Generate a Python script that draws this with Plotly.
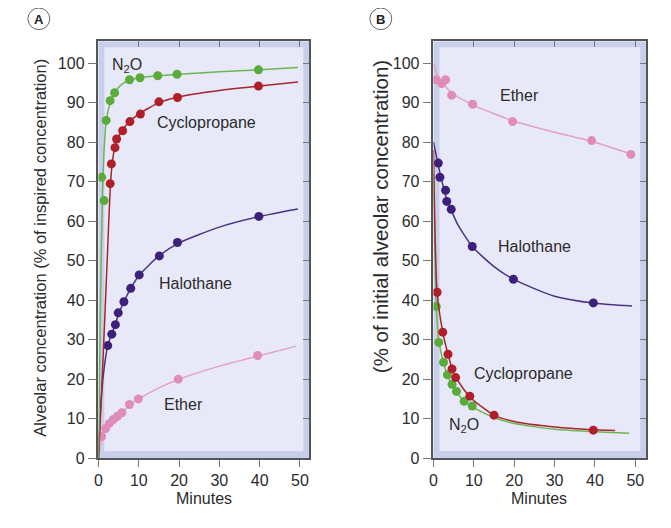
import plotly.graph_objects as go

# ---------------- Panel A: uptake (% of inspired concentration) ----------------
a_n2o_t = [0.8, 1.4, 1.9, 2.9, 4.0, 7.7, 10.3, 14.7, 19.5, 39.7]
a_n2o_v = [71.1, 65.2, 85.5, 90.5, 92.5, 95.8, 96.3, 96.8, 97.2, 98.3]
a_n2o_curve_t = [0, 0.5, 1.0, 1.5, 2.0, 3.0, 4.0, 6.0, 8.0, 10, 15, 20, 30, 40, 49.5]
a_n2o_curve_v = [0, 40, 67, 80, 86, 90.3, 92.6, 94.8, 95.8, 96.3, 96.8, 97.2, 97.8, 98.3, 98.9]

a_cyc_t = [2.9, 3.2, 4.1, 4.5, 6.0, 7.8, 10.4, 15.0, 19.6, 39.7]
a_cyc_v = [69.5, 74.5, 78.6, 80.8, 82.9, 85.2, 87.1, 90.2, 91.3, 94.2]
a_cyc_curve_t = [0, 1.0, 2.2, 2.9, 3.5, 4.5, 6.0, 8.0, 10, 15, 20, 30, 40, 49.5]
a_cyc_curve_v = [0, 22, 51, 68, 75.5, 80.3, 83.2, 85.5, 87.1, 90.0, 91.5, 93.1, 94.2, 95.2]

a_hal_t = [2.3, 3.3, 4.2, 4.9, 6.3, 8.0, 10.1, 15.1, 19.6, 39.8]
a_hal_v = [28.5, 31.4, 33.8, 36.8, 39.6, 43.0, 46.4, 51.2, 54.6, 61.2]
a_hal_curve_t = [0, 0.5, 1.2, 2.3, 3.3, 4.2, 5.0, 6.3, 8.0, 10, 15, 20, 30, 40, 49.5]
a_hal_curve_v = [0, 12, 21, 28.5, 31.6, 34.0, 36.5, 39.6, 43.0, 46.2, 51.2, 54.5, 58.5, 61.2, 63.1]

a_eth_t = [0.8, 1.8, 2.7, 3.7, 4.7, 5.8, 7.7, 9.9, 19.8, 39.5]
a_eth_v = [5.5, 7.5, 8.8, 9.8, 10.6, 11.5, 13.6, 15.0, 20.0, 26.0]
a_eth_curve_t = [0, 0.8, 1.8, 2.7, 3.7, 4.7, 5.8, 7.7, 10, 15, 20, 30, 40, 49]
a_eth_curve_v = [0, 5.5, 7.5, 8.8, 9.8, 10.6, 11.5, 13.4, 15.0, 17.8, 20.0, 23.3, 26.0, 28.3]

# ---------------- Panel B: elimination (% of initial alveolar concentration) ----------------
b_eth_t = [0.7, 2.0, 3.0, 4.5, 9.7, 19.6, 39.2, 48.9]
b_eth_v = [95.8, 94.8, 95.8, 91.9, 89.6, 85.2, 80.4, 76.9]
b_eth_curve_t = [0, 1, 2, 4.5, 10, 20, 30, 40, 49]
b_eth_curve_v = [100, 96.8, 95.3, 92.5, 89.3, 85.3, 82.5, 80.0, 77.0]

b_hal_t = [1.2, 1.6, 3.0, 3.3, 4.4, 9.6, 19.8, 39.6]
b_hal_v = [74.7, 71.1, 67.8, 65.0, 63.0, 53.6, 45.3, 39.3]
b_hal_curve_t = [0, 1, 2, 3, 4.4, 6, 9.6, 15, 20, 30, 40, 49.2]
b_hal_curve_v = [80, 75, 70.5, 66.5, 62.8, 59.2, 53.6, 48.5, 45.2, 41.0, 39.2, 38.5]

b_cyc_t = [0.9, 2.3, 3.6, 4.6, 5.5, 9.0, 15.0, 39.6]
b_cyc_v = [42.0, 31.9, 26.3, 22.6, 20.4, 15.7, 10.9, 7.1]
b_cyc_curve_t = [0, 0.9, 2.3, 3.6, 4.6, 5.5, 9.0, 15, 20, 30, 40, 45]
b_cyc_curve_v = [78, 42, 31.9, 26.3, 22.8, 20.5, 15.5, 10.9, 9.3, 7.9, 7.2, 7.0]

b_n2o_t = [0.7, 1.3, 2.5, 3.45, 4.6, 5.7, 7.6, 9.6]
b_n2o_v = [38.4, 29.3, 24.3, 21.1, 18.7, 16.9, 14.4, 13.2]
b_n2o_curve_t = [0, 0.7, 1.3, 2.5, 3.5, 4.6, 5.7, 7.6, 9.6, 15, 20, 30, 40, 48.5]
b_n2o_curve_v = [72, 38.4, 30, 24, 21, 18.5, 16.8, 14.4, 13.0, 10.3, 8.8, 7.3, 6.7, 6.3]

x_ticks = [0, 10, 20, 30, 40, 50]
y_ticks = [0, 10, 20, 30, 40, 50, 60, 70, 80, 90, 100]

GREEN_M, GREEN_L = "#5aab3c", "#6cb550"
RED_M, RED_L = "#b01e2a", "#a8242e"
PUR_M, PUR_L = "#3d1f7c", "#4b3383"
PINK_M, PINK_L = "#e08cba", "#e3a0c6"

FONT = "Liberation Sans, Arial, sans-serif"
TXT = "#2b2b2b"

W, H = 671, 528
OFF = 8  # page body margin offset


def px(x):
    return (x - OFF) / W


def py(y):
    return 1 - (y - OFF) / H


fig = go.Figure()


def add_series(t, v, ct, cv, lc, mc, xa, ya):
    fig.add_trace(go.Scatter(x=ct, y=cv, mode="lines",
                             line=dict(color=lc, width=1.5, shape="spline", smoothing=0.6),
                             xaxis=xa, yaxis=ya, hoverinfo="skip", showlegend=False))
    fig.add_trace(go.Scatter(x=t, y=v, mode="markers", marker=dict(color=mc, size=9),
                             xaxis=xa, yaxis=ya, showlegend=False))


add_series(a_eth_t, a_eth_v, a_eth_curve_t, a_eth_curve_v, PINK_L, PINK_M, "x", "y")
add_series(a_hal_t, a_hal_v, a_hal_curve_t, a_hal_curve_v, PUR_L, PUR_M, "x", "y")
add_series(a_cyc_t, a_cyc_v, a_cyc_curve_t, a_cyc_curve_v, RED_L, RED_M, "x", "y")
add_series(a_n2o_t, a_n2o_v, a_n2o_curve_t, a_n2o_curve_v, GREEN_L, GREEN_M, "x", "y")

add_series(b_eth_t, b_eth_v, b_eth_curve_t, b_eth_curve_v, PINK_L, PINK_M, "x2", "y2")
add_series(b_hal_t, b_hal_v, b_hal_curve_t, b_hal_curve_v, PUR_L, PUR_M, "x2", "y2")
add_series(b_n2o_t, b_n2o_v, b_n2o_curve_t, b_n2o_curve_v, GREEN_L, GREEN_M, "x2", "y2")
add_series(b_cyc_t, b_cyc_v, b_cyc_curve_t, b_cyc_curve_v, RED_L, RED_M, "x2", "y2")

# invisible traces for the mirrored (inside-tick) axes
fig.add_trace(go.Scatter(x=[0], y=[0], xaxis="x3", yaxis="y3", mode="markers",
                         marker=dict(opacity=0), showlegend=False, hoverinfo="skip"))
fig.add_trace(go.Scatter(x=[0], y=[0], xaxis="x4", yaxis="y4", mode="markers",
                         marker=dict(opacity=0), showlegend=False, hoverinfo="skip"))

XR_A = [0, 52.3]
XR_B = [0, 52.7]
YR = [0, 105.5]
DOM_XA = [px(95), px(307)]
DOM_XB = [px(432), px(646)]
DOM_Y = [py(466), py(42)]

axis_common = dict(showgrid=False, zeroline=False, showline=True, linecolor="#555555", linewidth=1.5,
                   tickcolor="#777777", tickwidth=1, tickfont=dict(family=FONT, size=16, color=TXT))

fig.update_layout(
    width=W, height=H,
    margin=dict(l=0, r=0, t=0, b=0),
    paper_bgcolor="white",
    plot_bgcolor="#c8cfea",
    xaxis=dict(domain=DOM_XA, range=XR_A, anchor="y", tickvals=x_ticks, ticks="outside", ticklen=7, **axis_common),
    yaxis=dict(domain=DOM_Y, range=YR, anchor="x", tickvals=y_ticks, ticks="outside", ticklen=9, **axis_common),
    xaxis2=dict(domain=DOM_XB, range=XR_B, anchor="y2", tickvals=x_ticks, ticks="outside", ticklen=7, **axis_common),
    yaxis2=dict(domain=DOM_Y, range=YR, anchor="x2", tickvals=y_ticks, ticks="outside", ticklen=9, **axis_common),
    xaxis3=dict(overlaying="x", side="top", anchor="y3", range=XR_A, tickvals=x_ticks, ticks="inside", ticklen=6,
                showticklabels=False, **axis_common),
    yaxis3=dict(overlaying="y", side="right", anchor="x3", range=YR, tickvals=y_ticks, ticks="inside", ticklen=6,
                showticklabels=False, **axis_common),
    xaxis4=dict(overlaying="x2", side="top", anchor="y4", range=XR_B, tickvals=x_ticks, ticks="inside", ticklen=6,
                showticklabels=False, **axis_common),
    yaxis4=dict(overlaying="y2", side="right", anchor="x4", range=YR, tickvals=y_ticks, ticks="inside", ticklen=6,
                showticklabels=False, **axis_common),
)

# lighter inner panel background
for xr, yr in (("x domain", "y domain"), ("x2 domain", "y2 domain")):
    fig.add_shape(type="rect", xref=xr, yref=yr, x0=0.028, x1=0.972, y0=0.017, y1=0.986,
                  fillcolor="#e8e9f8", line=dict(width=0), layer="below")


def lab(text, x, y, xa, ya, size=16):
    fig.add_annotation(text=text, x=x, y=y, xref=xa, yref=ya, showarrow=False,
                       xanchor="center", yanchor="middle",
                       font=dict(family=FONT, size=size, color=TXT))


lab("N<sub>2</sub>O", 7.2, 99.5, "x", "y")
lab("Cyclopropane", 26.7, 85.0, "x", "y")
lab("Halothane", 24.1, 44.2, "x", "y")
lab("Ether", 21.0, 13.5, "x", "y")

lab("Ether", 21.3, 91.9, "x2", "y2")
lab("Halothane", 25.1, 53.6, "x2", "y2")
lab("Cyclopropane", 22.3, 21.4, "x2", "y2")
lab("N<sub>2</sub>O", 7.6, 8.2, "x2", "y2")


def ptext(text, x, y, size, angle=0, color=TXT):
    fig.add_annotation(text=text, x=px(x), y=py(y), xref="paper", yref="paper", showarrow=False,
                       xanchor="center", yanchor="middle", textangle=angle,
                       font=dict(family=FONT, size=size, color=color))


# axis titles
ptext("Minutes", 201, 507, 16)
ptext("Minutes", 538, 507, 16)
ptext("Alveolar concentration (% of inspired concentration)", 36, 252, 16.5, -90)
ptext("(% of initial alveolar concentration)", 379, 220, 20.5, -90)

# panel letters
for letter, cx in (("A", 35), ("B", 379)):
    r = 11
    fig.add_shape(type="circle", xref="paper", yref="paper",
                  x0=px(cx - r), x1=px(cx + r), y0=py(19 + r), y1=py(19 - r),
                  line=dict(color="#666666", width=1), fillcolor="white")
    ptext("<b>%s</b>" % letter, cx, 19.5, 13, color="#222222")

fig.write_html("out.html")
